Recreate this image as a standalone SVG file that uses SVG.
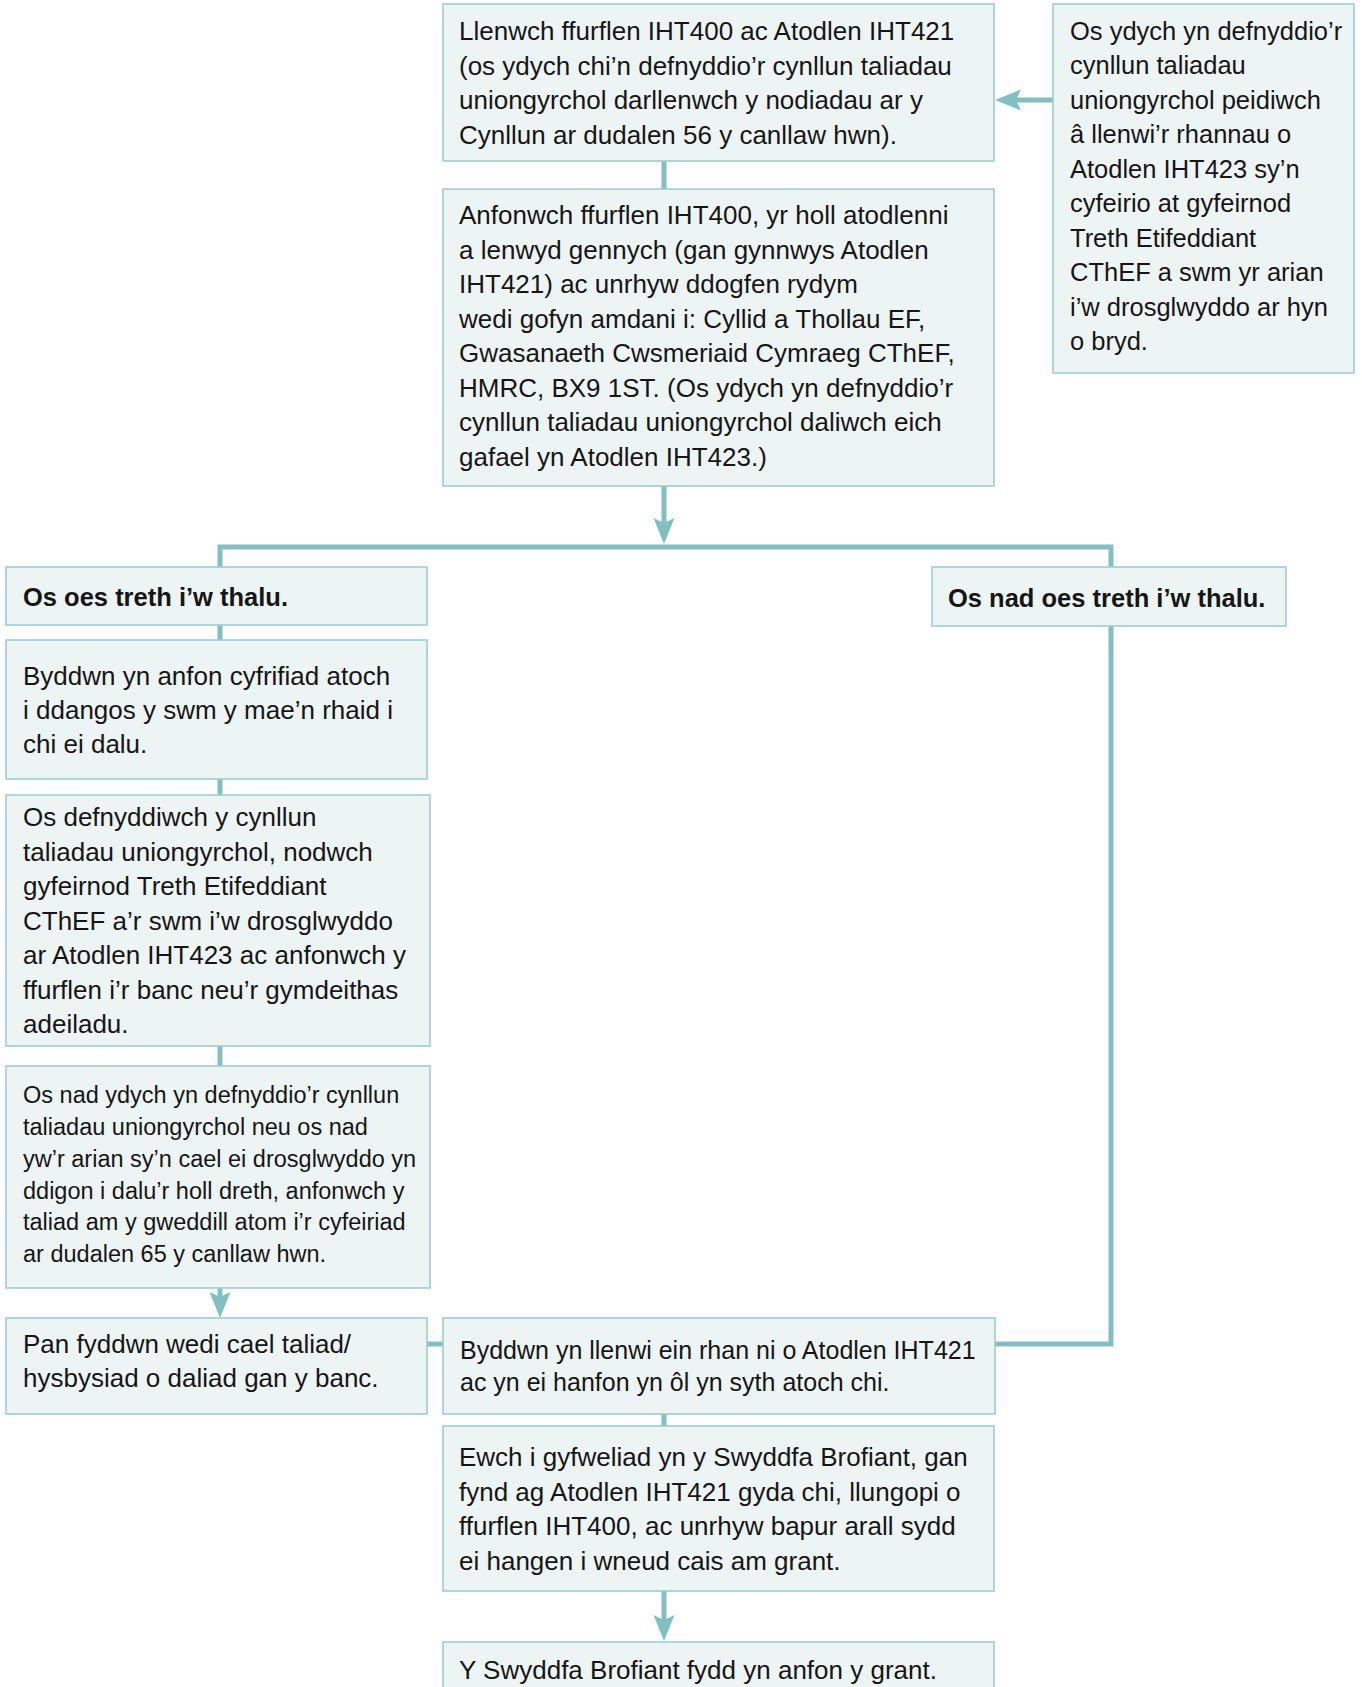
<svg xmlns="http://www.w3.org/2000/svg" width="1362" height="1687" viewBox="0 0 1362 1687">
<style>
.box{fill:#ecf5f4;stroke:#9ccfcf;stroke-width:1.6}
.t{font-family:"Liberation Sans",Arial,sans-serif;font-size:26px;fill:#161616}
.s{font-size:23.5px}
.m{font-size:25px}
.b{font-weight:bold;font-size:25.5px}
.c{fill:none;stroke:#80c0c0;stroke-width:5}
.ah{fill:#80c0c0}
</style>
<defs>
<marker id="arr" markerUnits="userSpaceOnUse" markerWidth="30" markerHeight="24" refX="14" refY="10.5" orient="auto" overflow="visible">
<path class="ah" d="M0,0 L26,10.5 L0,21 L5,10.5 Z"/>
</marker>
</defs>
<rect width="1362" height="1687" fill="#ffffff"/>
<g id="connectors">
<path class="c" d="M664,161 V189"/>
<path class="c" d="M1053,100 H1007" marker-end="url(#arr)"/>
<path class="c" d="M664,486 V532" marker-end="url(#arr)"/>
<path class="c" d="M220,567 V547 H1111 V567"/>
<path class="c" d="M220,625 V640"/>
<path class="c" d="M220,779 V795"/>
<path class="c" d="M220,1046 V1066"/>
<path class="c" d="M220,1288 V1306" marker-end="url(#arr)"/>
<path class="c" d="M427,1344 H443"/>
<path class="c" d="M1111,626 V1344 H995"/>
<path class="c" d="M664,1414 V1426"/>
<path class="c" d="M664,1591 V1629" marker-end="url(#arr)"/>
</g>
<g id="n1">
<rect class="box" x="443" y="4" width="551" height="157"/>
<text class="t" x="459" y="40">Llenwch ffurflen IHT400 ac Atodlen IHT421</text>
<text class="t" x="459" y="74.5">(os ydych chi’n defnyddio’r cynllun taliadau</text>
<text class="t" x="459" y="109">uniongyrchol darllenwch y nodiadau ar y</text>
<text class="t" x="459" y="143.5">Cynllun ar dudalen 56 y canllaw hwn).</text>
</g>
<g id="n2">
<rect class="box" x="1053" y="4" width="301" height="369"/>
<text class="t" x="1070" y="39.5" style="font-size:25.5px">Os ydych yn defnyddio’r</text>
<text class="t" x="1070" y="74" style="font-size:25.5px">cynllun taliadau</text>
<text class="t" x="1070" y="108.5" style="font-size:25.5px">uniongyrchol peidiwch</text>
<text class="t" x="1070" y="143" style="font-size:25.5px">â llenwi’r rhannau o</text>
<text class="t" x="1070" y="177.5" style="font-size:25.5px">Atodlen IHT423 sy’n</text>
<text class="t" x="1070" y="212" style="font-size:25.5px">cyfeirio at gyfeirnod</text>
<text class="t" x="1070" y="246.5" style="font-size:25.5px">Treth Etifeddiant</text>
<text class="t" x="1070" y="281" style="font-size:25.5px">CThEF a swm yr arian</text>
<text class="t" x="1070" y="315.5" style="font-size:25.5px">i’w drosglwyddo ar hyn</text>
<text class="t" x="1070" y="350" style="font-size:25.5px">o bryd.</text>
</g>
<g id="n3">
<rect class="box" x="443" y="189" width="551" height="297"/>
<text class="t" x="459" y="224">Anfonwch ffurflen IHT400, yr holl atodlenni</text>
<text class="t" x="459" y="258.5">a lenwyd gennych (gan gynnwys Atodlen</text>
<text class="t" x="459" y="293">IHT421) ac unrhyw ddogfen rydym</text>
<text class="t" x="459" y="327.5">wedi gofyn amdani i: Cyllid a Thollau EF,</text>
<text class="t" x="459" y="362">Gwasanaeth Cwsmeriaid Cymraeg CThEF,</text>
<text class="t" x="459" y="396.5">HMRC, BX9 1ST. (Os ydych yn defnyddio’r</text>
<text class="t" x="459" y="431">cynllun taliadau uniongyrchol daliwch eich</text>
<text class="t" x="459" y="465.5">gafael yn Atodlen IHT423.)</text>
</g>
<g id="n4">
<rect class="box" x="6" y="567" width="421" height="58"/>
<text class="t b" x="23" y="606">Os oes treth i’w thalu.</text>
</g>
<g id="n5">
<rect class="box" x="932" y="567" width="354" height="59"/>
<text class="t b" x="948" y="607">Os nad oes treth i’w thalu.</text>
</g>
<g id="n6">
<rect class="box" x="6" y="640" width="421" height="139"/>
<text class="t" x="23" y="685">Byddwn yn anfon cyfrifiad atoch</text>
<text class="t" x="23" y="719">i ddangos y swm y mae’n rhaid i</text>
<text class="t" x="23" y="753">chi ei dalu.</text>
</g>
<g id="n7">
<rect class="box" x="6" y="795" width="424" height="251"/>
<text class="t" x="23" y="826">Os defnyddiwch y cynllun</text>
<text class="t" x="23" y="860.5">taliadau uniongyrchol, nodwch</text>
<text class="t" x="23" y="895">gyfeirnod Treth Etifeddiant</text>
<text class="t" x="23" y="929.5">CThEF a’r swm i’w drosglwyddo</text>
<text class="t" x="23" y="964">ar Atodlen IHT423 ac anfonwch y</text>
<text class="t" x="23" y="998.5">ffurflen i’r banc neu’r gymdeithas</text>
<text class="t" x="23" y="1033">adeiladu.</text>
</g>
<g id="n8">
<rect class="box" x="6" y="1066" width="424" height="222"/>
<text class="t s" x="23" y="1103">Os nad ydych yn defnyddio’r cynllun</text>
<text class="t s" x="23" y="1135">taliadau uniongyrchol neu os nad</text>
<text class="t s" x="23" y="1167">yw’r arian sy’n cael ei drosglwyddo yn</text>
<text class="t s" x="23" y="1198.5">ddigon i dalu’r holl dreth, anfonwch y</text>
<text class="t s" x="23" y="1230">taliad am y gweddill atom i’r cyfeiriad</text>
<text class="t s" x="23" y="1262">ar dudalen 65 y canllaw hwn.</text>
</g>
<g id="n9">
<rect class="box" x="6" y="1318" width="421" height="96"/>
<text class="t" x="23" y="1353">Pan fyddwn wedi cael taliad/</text>
<text class="t" x="23" y="1387">hysbysiad o daliad gan y banc.</text>
</g>
<g id="n10">
<rect class="box" x="443" y="1318" width="552" height="96"/>
<text class="t m" x="460" y="1359">Byddwn yn llenwi ein rhan ni o Atodlen IHT421</text>
<text class="t m" x="460" y="1391">ac yn ei hanfon yn ôl yn syth atoch chi.</text>
</g>
<g id="n11">
<rect class="box" x="443" y="1426" width="551" height="165"/>
<text class="t" x="459" y="1466">Ewch i gyfweliad yn y Swyddfa Brofiant, gan</text>
<text class="t" x="459" y="1500.5">fynd ag Atodlen IHT421 gyda chi, llungopi o</text>
<text class="t" x="459" y="1535">ffurflen IHT400, ac unrhyw bapur arall sydd</text>
<text class="t" x="459" y="1569.5">ei hangen i wneud cais am grant.</text>
</g>
<g id="n12">
<rect class="box" x="443" y="1642" width="551" height="60"/>
<text class="t" x="459" y="1679">Y Swyddfa Brofiant fydd yn anfon y grant.</text>
</g>
</svg>
